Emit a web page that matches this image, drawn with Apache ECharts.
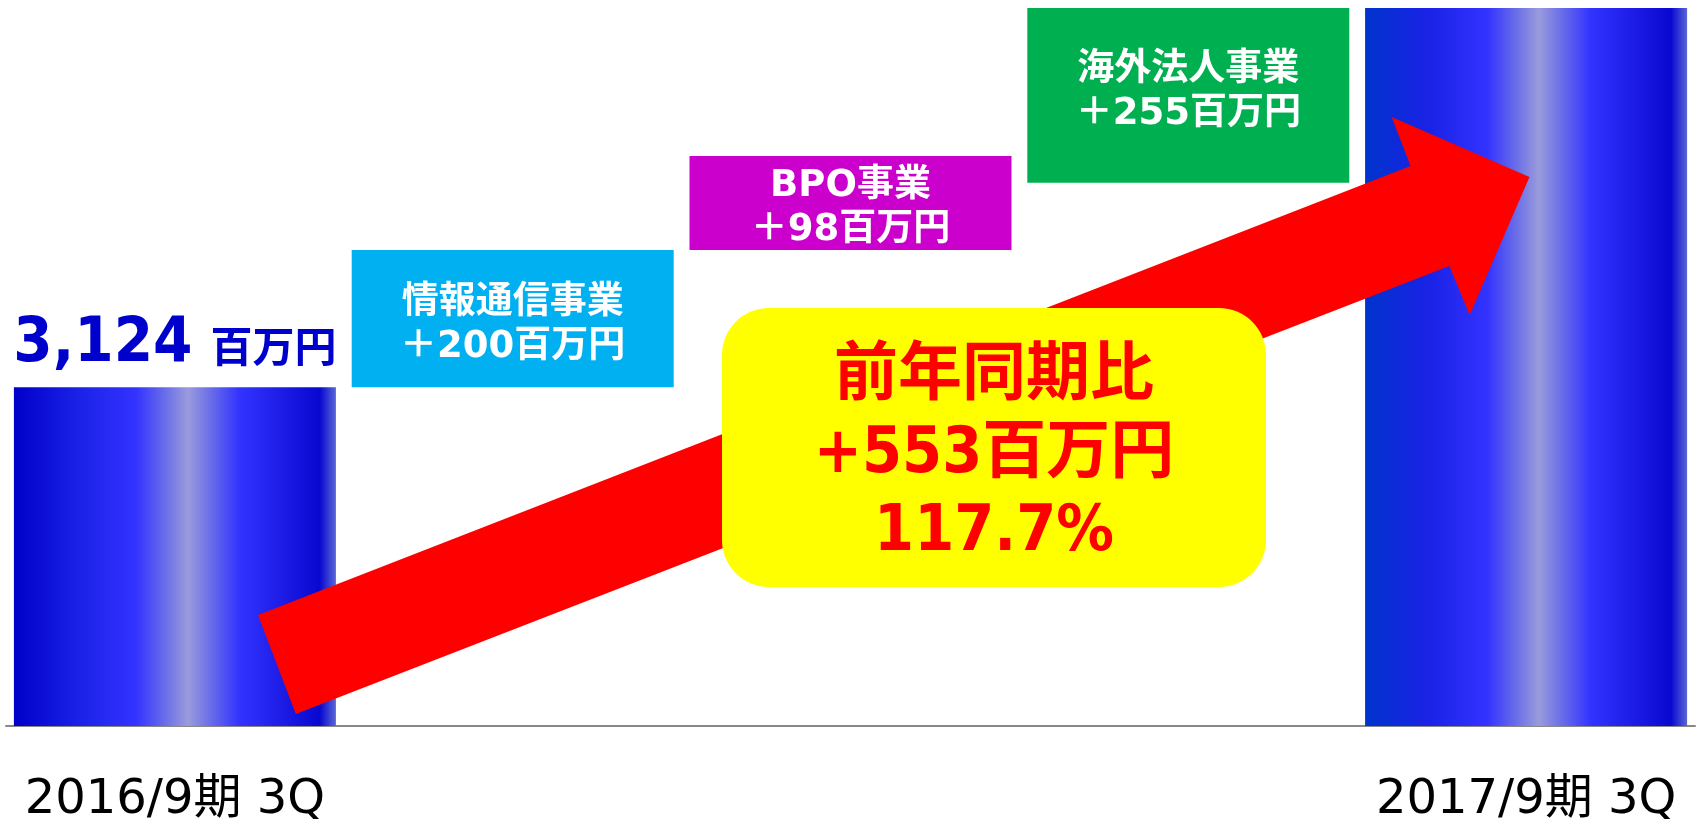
<!DOCTYPE html>
<html>
<head>
<meta charset="utf-8">
<title>前年同期比</title>
<script src="https://cdn.jsdelivr.net/npm/echarts@6/dist/echarts.min.js"></script>
<style>
  html, body { margin: 0; padding: 0; background: #fff; }
  #main { width: 1696px; height: 821px; }
</style>
</head>
<body>
<div id="main"></div>
<script>
  // data
  var categories = ['2016/9期 3Q', '情報通信事業', 'BPO事業', '海外法人事業', '2017/9期 3Q']
  var startValue = 3124
  var increments = [200, 98, 255]
  var incrementColors = ['#00B0F0', '#CC00CC', '#00B050']
  var unit = '百万円'
  var summaryTitle = '前年同期比'

  // small nudges so the two-line labels sit like on the slide
  var labelOffsets = [[0, 7], [0, 5], [0, -3]]

  var latinBold = '"DejaVu Sans Condensed", "DejaVu Sans", "Noto Sans CJK JP", sans-serif'
  var boxFont = '"DejaVu Sans", "Noto Sans CJK JP", sans-serif'
  var cjkFont = '"Noto Sans CJK JP", sans-serif'

  var endValue = startValue
  var baseData = ['-']
  var deltaData = ['-']
  increments.forEach(function (v, i) {
    baseData.push(endValue)
    deltaData.push({
      value: v,
      itemStyle: { color: incrementColors[i] },
      label: { offset: labelOffsets[i] }
    })
    endValue += v
  })
  baseData.push('-')
  deltaData.push('-')

  function barGradient (edge) {
    return {
      type: 'linear', x: 0, y: 0, x2: 1, y2: 0,
      colorStops: [
        { offset: 0, color: edge },
        { offset: 0.2, color: '#1a22e6' },
        { offset: 0.38, color: '#3333ff' },
        { offset: 0.47, color: '#6a6ee8' },
        { offset: 0.54, color: '#9a9bdc' },
        { offset: 0.61, color: '#6a6ee8' },
        { offset: 0.7, color: '#3333ff' },
        { offset: 0.95, color: '#0808d0' },
        { offset: 1, color: '#5a66d6' }
      ]
    }
  }

  var totalData = [
    {
      value: startValue,
      itemStyle: { color: barGradient('#0000c8') },
      label: {
        show: true,
        position: 'top',
        distance: 8,
        formatter: function (p) {
          return '{num|' + p.value.toLocaleString('en-US') + '}{unit|' + unit + '}'
        },
        rich: {
          num: { fontSize: 63, fontWeight: 'bold', fontFamily: latinBold, color: '#0000CC', lineHeight: 70 },
          unit: { fontSize: 42, fontWeight: 'bold', fontFamily: cjkFont, color: '#0000CC', lineHeight: 70, padding: [3, 0, 0, 18] }
        }
      }
    },
    '-', '-', '-',
    { value: endValue, itemStyle: { color: barGradient('#0033cc') } }
  ]

  var chart = echarts.init(document.getElementById('main'))
  chart.setOption({
    animation: false,
    grid: { left: 6, right: 1, top: 8, bottom: 95, outerBoundsMode: 'none' },
    xAxis: {
      type: 'category',
      data: categories,
      axisTick: { show: false },
      axisLine: { lineStyle: { color: '#888', width: 2 } },
      axisLabel: {
        interval: function (i) { return i === 0 || i === categories.length - 1 },
        color: '#000',
        fontSize: 48,
        fontFamily: boxFont,
        margin: 51
      }
    },
    yAxis: {
      type: 'value',
      show: false,
      min: 2630,
      max: endValue
    },
    series: [
      {
        type: 'bar',
        stack: 'w',
        barWidth: 322,
        silent: true,
        itemStyle: { color: 'transparent' },
        data: baseData
      },
      {
        type: 'bar',
        stack: 'w',
        barWidth: 322,
        barMinHeight: 94,
        label: {
          show: true,
          position: 'inside',
          color: '#fff',
          fontSize: 37,
          fontWeight: 'bold',
          fontFamily: boxFont,
          lineHeight: 44,
          formatter: function (p) { return p.name + '\n＋' + p.value + unit }
        },
        data: deltaData
      },
      {
        type: 'bar',
        stack: 'w',
        barWidth: 322,
        data: totalData
      }
    ]
  })

  // arrow from the first bar to the last, in [category position, value]
  var arrowShape = [
    [0.246, 2792], [3.658, 3446.6], [3.602, 3518], [4.01, 3430.6],
    [3.833, 3229.3], [3.773, 3300.8], [0.358, 2647.5]
  ]
  function toPixel (pt) {
    var last = categories.length - 1
    var a = chart.convertToPixel({ gridIndex: 0 }, [0, pt[1]])
    var b = chart.convertToPixel({ gridIndex: 0 }, [last, pt[1]])
    return [a[0] + (b[0] - a[0]) * pt[0] / last, a[1]]
  }

  var summaryLines = [
    summaryTitle,
    '+' + (endValue - startValue) + unit,
    (endValue / startValue * 100).toFixed(1) + '%'
  ]

  chart.setOption({
    graphic: [
      {
        type: 'polygon',
        z: 10,
        shape: { points: arrowShape.map(toPixel) },
        style: { fill: '#FF0000' }
      },
      {
        type: 'rect',
        z: 20,
        shape: { x: 722, y: 308, width: 544, height: 279, r: 47 },
        style: { fill: '#FFFF00' }
      },
      {
        type: 'text',
        z: 21,
        x: 994,
        y: 455,
        style: {
          text: summaryLines.join('\n'),
          fill: '#FF0000',
          fontSize: 64,
          fontWeight: 'bold',
          fontFamily: latinBold,
          lineHeight: 78,
          align: 'center',
          verticalAlign: 'middle'
        }
      }
    ]
  })
</script>
</body>
</html>
